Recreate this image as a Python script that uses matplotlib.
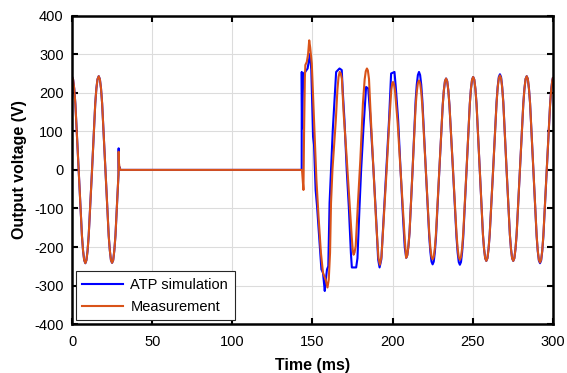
import matplotlib
matplotlib.use("Agg")
import matplotlib.pyplot as plt
import numpy as np

plt.rcParams['font.family'] = ['Liberation Sans', 'DejaVu Sans']
plt.rcParams['axes.unicode_minus'] = False

# ---- data ----
# pre-fault sine and short switching spike, both traces
t_start = [0, 0.7, 1.4, 2.1, 4.17,
           6.2, 6.9, 7.6, 8.33, 9.0, 9.7, 10.4, 12.5,
           14.5, 15.2, 15.9, 16.67, 17.4, 18.1, 18.8, 20.83,
           22.9, 23.6, 24.3, 25.0, 25.7, 26.4, 27.1, 28.7, 29.0,
           29.1, 29.3, 29.6, 30.2, 60, 100, 143.2]
v_start_atp = [242, 234, 210, 171, 0,
               -171, -210, -234, -242, -234, -210, -171, 0,
               172, 211, 235, 243, 235, 211, 172, 0,
               -171, -209, -234, -241, -234, -209, -171, -40, -12,
               56, 4, 8, 0, 0, 0, 0]
v_start_meas = [242, 234, 210, 171, 0,
                -171, -210, -234, -242, -234, -210, -171, 0,
                172, 211, 235, 243, 235, 211, 172, 0,
                -171, -209, -234, -241, -234, -209, -171, -40, -12,
                47, 18, 8, 0, 0, 0, 0]

# transient after re-energisation
t_fault_atp = [143.3, 143.35, 143.6, 144.0, 144.4, 145.5, 147.0, 148.5, 149.3,
               150.4, 151.0, 152.0, 152.9, 154.3, 155.6, 156.6, 157.7, 158.3,
               159.1, 159.9, 160.7, 161.6, 162.7, 163.7, 164.8, 166.9, 168.3,
               169.0, 170.0, 171.4, 172.7, 174.0, 174.6, 177.3, 178.1, 179.4,
               180.4, 181.9, 183.5, 184.8, 186.0, 188.1, 189.8, 191.0, 191.9,
               193.0, 194.4, 196.1, 197.8, 199.1, 201.2, 202.0, 203.5, 205.0,
               206.6, 207.6]
v_fault_atp = [0, 254, 108, 200, 250, 254, 263, 301, 259,
               86, 65, -52, -95, -180, -258, -267, -314, -287,
               -258, -250, -86, 0, 103, 173, 254, 263, 259,
               199, 129, 0, -95, -215, -253, -253, -229, -95,
               0, 112, 215, 211, 147, 0, -129, -232, -253,
               -232, -129, 0, 129, 250, 254, 215, 129, 0,
               -129, -200]

t_fault_meas = [143.5, 144.0, 144.4, 144.8, 145.3, 145.6, 146.5, 147.3, 148.0,
                148.6, 149.6, 150.4, 151.5, 152.5, 153.8, 155.3, 156.6, 158.2,
                159.4, 160.2, 161.0, 161.6, 162.5, 164.6, 165.6, 166.3, 167.0,
                167.7, 168.4, 169.5, 171.2, 172.8, 174.5, 175.2, 175.7, 176.3,
                177.0, 178.4, 179.9, 181.5, 182.6, 183.3, 184.0, 184.6, 185.3,
                186.5, 188.1, 189.8, 191.2, 192.1, 193.1, 194.6, 196.3, 198.0,
                199.2, 199.8, 200.3, 200.9, 201.5, 203.2, 205.0, 207.0, 207.6]
v_fault_meas = [0, -30, -52, 100, 240, 272, 280, 300, 336,
                318, 276, 190, 78, -26, -120, -215, -267, -284,
                -305, -284, -215, -86, 0, 129, 208, 241, 254,
                250, 236, 146, 43, -60, -172, -210, -220, -214,
                -198, -86, 26, 172, 235, 256, 263, 258, 236,
                129, 0, -138, -228, -246, -225, -120, 0, 129,
                207, 224, 228, 222, 207, 121, 0, -138, -180]

# steady state oscillation
t_steady = [208.5, 209.2, 209.9, 210.6, 212.5,
            214.4, 215.1, 215.8, 216.5, 217.2, 217.9, 218.6, 220.75,
            222.9, 223.6, 224.3, 225.0, 225.7, 226.4, 227.1, 229.2,
            231.3, 232.0, 232.7, 233.4, 234.1, 234.8, 235.5, 237.7,
            239.9, 240.6, 241.3, 242.0, 242.7, 243.4, 244.1, 246.15,
            248.2, 248.9, 249.6, 250.3, 251.0, 251.7, 252.4, 254.4,
            256.4, 257.1, 257.8, 258.5, 259.2, 259.9, 260.6, 262.75,
            264.9, 265.6, 266.3, 267.0, 267.7, 268.4, 269.1, 271.15,
            273.2, 273.9, 274.6, 275.3, 276.0, 276.7, 277.4, 279.5,
            281.6, 282.3, 283.0, 283.7, 284.4, 285.1, 285.8, 287.85,
            289.9, 290.6, 291.3, 292.0, 292.7, 293.4, 294.1, 296.2,
            298.3, 299.0, 299.7, 300.0]
v_steady_atp = [-228, -221, -198, -162, 0,
                180, 221, 246, 254, 246, 221, 180, 0,
                -174, -213, -238, -245, -238, -213, -174, 0,
                168, 206, 230, 237, 230, 206, 168, 0,
                -175, -214, -239, -246, -239, -214, -175, 0,
                171, 210, 234, 241, 234, 210, 171, 0,
                -168, -205, -229, -236, -229, -205, -168, 0,
                176, 216, 241, 248, 241, 216, 176, 0,
                -168, -205, -229, -236, -229, -205, -168, 0,
                173, 211, 236, 243, 236, 211, 173, 0,
                -172, -211, -235, -242, -235, -211, -172, 0,
                170, 209, 233, 238]
v_steady_meas = [-228, -221, -198, -162, 0,
                 165, 202, 225, 232, 225, 202, 165, 0,
                 -165, -202, -225, -232, -225, -202, -165, 0,
                 168, 206, 230, 237, 230, 206, 168, 0,
                 -165, -203, -226, -233, -226, -203, -165, 0,
                 171, 210, 234, 241, 234, 210, 171, 0,
                 -168, -205, -229, -236, -229, -205, -168, 0,
                 174, 213, 238, 245, 238, 213, 174, 0,
                 -168, -205, -229, -236, -229, -205, -168, 0,
                 173, 211, 236, 243, 236, 211, 173, 0,
                 -170, -209, -233, -240, -233, -209, -170, 0,
                 170, 209, 233, 238]

t_atp = t_start + t_fault_atp + t_steady
v_atp = v_start_atp + v_fault_atp + v_steady_atp
t_meas = t_start + t_fault_meas + t_steady
v_meas = v_start_meas + v_fault_meas + v_steady_meas

# ---- plot ----
fig = plt.figure(figsize=(5.67, 3.73), dpi=100)
ax = fig.add_axes([0.127, 0.131, 0.848, 0.827])

ax.plot(t_atp, v_atp, color="#0000FF", linewidth=1.5, label="ATP simulation")
ax.plot(t_meas, v_meas, color="#D95319", linewidth=1.5, label="Measurement")

ax.set_xlim(0, 300)
ax.set_ylim(-400, 400)
ax.set_xticks(np.arange(0, 301, 50))
ax.set_yticks(np.arange(-400, 401, 100))
ax.grid(True, color="#DCDCDC", linewidth=0.8)
ax.set_axisbelow(True)

for sp in ax.spines.values():
    sp.set_linewidth(1.8)
ax.tick_params(direction="in", top=True, right=True, length=4, width=1.5,
               labelsize=10.5)
ax.tick_params(axis="x", pad=8)
ax.tick_params(axis="y", pad=6)

ax.set_xlabel("Time (ms)", fontsize=11.5, fontweight="bold", labelpad=6)
ax.set_ylabel("Output voltage (V)", fontsize=11.5, fontweight="bold", labelpad=5)

leg = ax.legend(loc="lower left", fontsize=10.5, fancybox=False, framealpha=1,
                edgecolor="#262626", handlelength=2.8, handletextpad=0.5,
                borderpad=0.45, labelspacing=0.55, borderaxespad=0.25)
leg.get_frame().set_linewidth(0.8)

fig.savefig("out.png", dpi=100)
plt.close(fig)
